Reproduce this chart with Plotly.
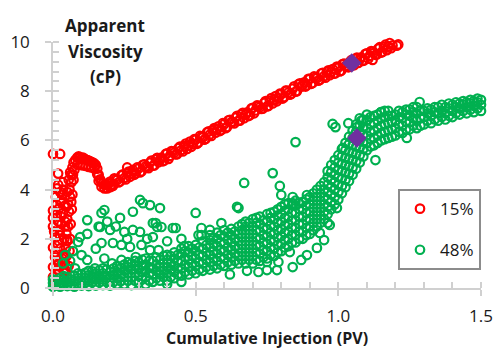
import plotly.graph_objects as go

# ---------------- data ----------------
# 15% : main rising band
red_main_x = [0.20, 0.21, 0.22, 0.23, 0.24, 0.25, 0.26, 0.27, 0.28, 0.29,
              0.30, 0.31, 0.32, 0.33, 0.34, 0.35, 0.36, 0.37, 0.38, 0.39,
              0.40, 0.41, 0.42, 0.43, 0.44, 0.45, 0.46, 0.47, 0.48, 0.49,
              0.50, 0.51, 0.52, 0.53, 0.54, 0.55, 0.56, 0.57, 0.58, 0.59,
              0.60, 0.61, 0.62, 0.63, 0.64, 0.65, 0.66, 0.67, 0.68, 0.69,
              0.70, 0.71, 0.72, 0.73, 0.74, 0.75, 0.76, 0.77, 0.78, 0.79,
              0.80, 0.81, 0.82, 0.83, 0.84, 0.85, 0.86, 0.87, 0.88, 0.89,
              0.90, 0.91, 0.92, 0.93, 0.94, 0.95, 0.96, 0.97, 0.98, 0.99,
              1.00, 1.01, 1.02, 1.03, 1.04, 1.05, 1.06, 1.07, 1.08, 1.09,
              1.10, 1.11, 1.12, 1.13, 1.14, 1.15, 1.16, 1.17, 1.18, 1.19,
              1.20, 1.21, 1.22]
red_main_y = [4.33, 4.20, 4.42, 4.29, 4.58, 4.47, 4.66, 4.52, 4.80, 4.66,
              4.86, 4.74, 5.03, 4.92, 5.10, 4.97, 5.23, 5.11, 5.30, 5.18,
              5.47, 5.37, 5.55, 5.43, 5.69, 5.61, 5.77, 5.65, 5.95, 5.85,
              6.03, 5.92, 6.14, 6.03, 6.33, 6.24, 6.42, 6.31, 6.57, 6.42,
              6.66, 6.54, 6.84, 6.74, 6.92, 6.80, 7.06, 6.90, 7.14, 7.02,
              7.32, 7.22, 7.40, 7.28, 7.52, 7.38, 7.62, 7.50, 7.80, 7.70,
              7.88, 7.76, 8.02, 7.86, 8.10, 7.98, 8.28, 8.18, 8.36, 8.24,
              8.50, 8.33, 8.56, 8.43, 8.72, 8.61, 8.78, 8.65, 8.90, 8.73,
              8.96, 8.83, 9.12, 9.02, 9.19, 9.06, 9.31, 9.15, 9.38, 9.25,
              9.54, 9.44, 9.61, 9.48, 9.73, 9.57, 9.80, 9.67, 9.96, 9.86,
              10.03, 9.90, 10.08]
# 15% : main band, points lying between the ones above
red_main2_x = [0.205, 0.215, 0.225, 0.235, 0.245, 0.255, 0.265, 0.275, 0.285, 0.295,
               0.305, 0.315, 0.325, 0.335, 0.345, 0.355, 0.365, 0.375, 0.385, 0.395,
               0.405, 0.415, 0.425, 0.435, 0.445, 0.455, 0.465, 0.475, 0.485, 0.495,
               0.505, 0.515, 0.525, 0.535, 0.545, 0.555, 0.565, 0.575, 0.585, 0.595,
               0.605, 0.615, 0.625, 0.635, 0.645, 0.655, 0.665, 0.675, 0.685, 0.695,
               0.705, 0.715, 0.725, 0.735, 0.745, 0.755, 0.765, 0.775, 0.785, 0.795,
               0.805, 0.815, 0.825, 0.835, 0.845, 0.855, 0.865, 0.875, 0.885, 0.895,
               0.905, 0.915, 0.925, 0.935, 0.945, 0.955, 0.965, 0.975, 0.985, 0.995,
               1.005, 1.015, 1.025, 1.035, 1.045, 1.055, 1.065, 1.075, 1.085, 1.095,
               1.105, 1.115, 1.125, 1.135, 1.145, 1.155, 1.165, 1.175, 1.185, 1.195,
               1.205, 1.215]
red_main2_y = [4.14, 4.46, 4.39, 4.33, 4.62, 4.41, 4.73, 4.64, 4.60, 4.90,
               4.70, 5.01, 4.95, 4.87, 5.18, 4.98, 5.29, 5.20, 5.15, 5.45,
               5.25, 5.57, 5.50, 5.44, 5.75, 5.55, 5.87, 5.80, 5.74, 6.05,
               5.86, 6.18, 6.12, 6.06, 6.37, 6.18, 6.50, 6.44, 6.38, 6.70,
               6.50, 6.82, 6.75, 6.69, 7.00, 6.80, 7.12, 7.05, 6.99, 7.30,
               7.10, 7.42, 7.35, 7.29, 7.60, 7.40, 7.72, 7.65, 7.59, 7.90,
               7.70, 8.02, 7.95, 7.89, 8.20, 8.00, 8.32, 8.25, 8.19, 8.50,
               8.30, 8.60, 8.53, 8.46, 8.75, 8.55, 8.85, 8.78, 8.71, 9.00,
               8.80, 9.10, 9.03, 8.97, 9.26, 9.06, 9.37, 9.30, 9.23, 9.52,
               9.32, 9.63, 9.56, 9.49, 9.79, 9.59, 9.89, 9.82, 9.75, 10.05,
               9.85, 10.12]

# 15% : early scatter, steep rise and hump
red_early_x = [0.000, 0.025, 0.018, 0.014, 0.025, 0.032, 0.035, 0.000, 0.000, 0.000,
               0.018, 0.025, 0.007, 0.032, 0.000, 0.025, 0.007, 0.032, 0.042, 0.000,
               0.018, 0.000, 0.035, 0.042, 0.035, 0.042, 0.050, 0.010, 0.020, 0.012,
               0.028, 0.038, 0.005, 0.012, 0.020, 0.028, 0.008, 0.016, 0.024, 0.030,
               0.004, 0.014, 0.022, 0.030, 0.010, 0.018, 0.026, 0.034, 0.006, 0.015,
               0.040, 0.045, 0.042, 0.048, 0.045, 0.050, 0.047, 0.053, 0.050, 0.056,
               0.053, 0.060, 0.058, 0.065, 0.063, 0.068, 0.072, 0.055, 0.058, 0.060,
               0.062, 0.066, 0.068, 0.072, 0.075, 0.038, 0.040, 0.043, 0.047, 0.050,
               0.055, 0.060, 0.064, 0.070,
               0.078, 0.085, 0.090, 0.095, 0.100, 0.105, 0.110, 0.115, 0.120, 0.125,
               0.130, 0.135, 0.140, 0.145, 0.150, 0.155, 0.160, 0.165, 0.170, 0.175,
               0.180, 0.185, 0.190, 0.195,
               0.085, 0.095, 0.105, 0.115, 0.125, 0.135, 0.145, 0.155, 0.160, 0.170,
               0.180, 0.190, 0.200, 0.210, 0.260, 1.120]
red_early_y = [5.45, 5.45, 4.65, 4.05, 3.90, 3.78, 4.00, 3.15, 2.85, 2.50,
               2.70, 2.35, 2.05, 1.95, 1.65, 1.60, 1.25, 1.20, 1.35, 0.85,
               0.75, 0.45, 1.00, 3.35, 3.05, 2.50, 1.95, 0.30, 1.00, 3.40,
               2.90, 0.70, 0.20, 0.55, 0.40, 0.90, 1.45, 1.80, 2.15, 2.60,
               2.30, 3.00, 3.25, 3.55, 3.70, 4.20, 3.50, 4.30, 0.10, 1.10,
               0.40, 0.70, 1.00, 1.30, 1.60, 1.90, 2.20, 2.50, 2.80, 3.10,
               3.40, 3.70, 4.00, 4.30, 4.60, 4.90, 5.10, 0.90, 1.50, 2.00,
               2.60, 3.20, 3.80, 4.40, 4.80, 1.40, 2.00, 2.70, 3.30, 3.90,
               4.40, 4.70, 3.50, 4.60,
               5.20, 5.30, 5.35, 5.30, 5.25, 5.30, 5.25, 5.22, 5.20, 5.18,
               5.15, 5.12, 5.10, 5.06, 5.00, 4.85, 4.60, 4.42, 4.30, 4.25,
               4.20, 4.22, 4.18, 4.25,
               5.02, 5.00, 4.98, 4.96, 4.92, 4.90, 4.85, 4.62, 4.35, 4.12,
               4.05, 4.05, 4.10, 4.15, 4.90, 9.27]

# 48% : dense band, one column of values per x position
green_band_cols_x = [0.000, 0.025, 0.050, 0.075, 0.100, 0.125, 0.150, 0.175, 0.200, 0.225,
                     0.250, 0.275, 0.300, 0.325, 0.350, 0.375, 0.400, 0.425, 0.450, 0.475,
                     0.500, 0.525, 0.550, 0.575, 0.600, 0.625, 0.650, 0.675, 0.700, 0.725,
                     0.750, 0.775, 0.800, 0.825, 0.850, 0.875, 0.900, 0.925, 0.950, 0.975,
                     1.000, 1.025, 1.050, 1.075, 1.100, 1.125, 1.150, 1.175, 1.200, 1.225,
                     1.250, 1.275, 1.300, 1.325, 1.350, 1.375, 1.400, 1.425, 1.450, 1.475,
                     1.500]
green_band_cols_y = [
    [0.05, 0.20, 0.35], [0.05, 0.22, 0.40], [0.08, 0.25, 0.45], [0.05, 0.28, 0.50],
    [0.10, 0.30, 0.55], [0.08, 0.30, 0.52, 0.70], [0.10, 0.35, 0.60], [0.12, 0.35, 0.60, 0.80],
    [0.10, 0.40, 0.65], [0.15, 0.40, 0.65, 0.90], [0.15, 0.45, 0.70, 0.95], [0.12, 0.45, 0.75, 1.00],
    [0.20, 0.50, 0.75, 1.05], [0.15, 0.45, 0.70, 0.95, 1.20], [0.25, 0.55, 0.80, 1.10], [0.30, 0.55, 0.85, 1.15],
    [0.30, 0.60, 0.85, 1.15, 1.35], [0.40, 0.65, 0.90, 1.20, 1.45], [0.50, 0.80, 1.10, 1.40, 1.60], [0.55, 0.85, 1.15, 1.45, 1.70],
    [0.60, 0.90, 1.20, 1.50, 1.75], [0.70, 1.00, 1.30, 1.60, 1.90], [0.75, 1.05, 1.35, 1.65, 1.95, 2.15], [0.80, 1.10, 1.40, 1.70, 2.00, 2.25],
    [0.90, 1.20, 1.50, 1.80, 2.10, 2.35], [0.95, 1.25, 1.55, 1.85, 2.15, 2.40], [1.00, 1.30, 1.60, 1.90, 2.20, 2.50], [1.00, 1.30, 1.60, 1.90, 2.20, 2.50, 2.70],
    [1.00, 1.30, 1.60, 1.90, 2.20, 2.50, 2.80], [1.10, 1.40, 1.70, 2.00, 2.30, 2.60, 2.90], [1.20, 1.50, 1.80, 2.10, 2.40, 2.70, 3.00], [1.30, 1.60, 1.90, 2.20, 2.50, 2.80, 3.10],
    [1.50, 1.80, 2.10, 2.40, 2.70, 3.00, 3.30], [1.70, 2.00, 2.30, 2.60, 2.90, 3.20, 3.45], [1.85, 2.15, 2.45, 2.75, 3.05, 3.35, 3.55], [2.00, 2.30, 2.60, 2.90, 3.20, 3.50],
    [2.20, 2.50, 2.80, 3.10, 3.40, 3.70], [2.50, 2.80, 3.10, 3.40, 3.70, 4.00], [2.80, 3.10, 3.40, 3.70, 4.00, 4.30], [3.20, 3.50, 3.80, 4.10, 4.40, 4.70, 5.00],
    [3.60, 3.90, 4.20, 4.50, 4.80, 5.10, 5.40], [4.10, 4.40, 4.70, 5.00, 5.30, 5.60, 5.90], [4.60, 4.90, 5.20, 5.50, 5.80, 6.10, 6.40], [5.10, 5.40, 5.70, 6.00, 6.30, 6.60, 6.90],
    [5.60, 5.90, 6.20, 6.50, 6.80, 7.05], [5.80, 6.10, 6.40, 6.70, 7.00], [6.00, 6.30, 6.60, 6.90, 7.15], [6.10, 6.40, 6.70, 7.00, 7.20],
    [6.20, 6.50, 6.80, 7.05], [6.30, 6.60, 6.90, 7.15], [6.45, 6.75, 7.00, 7.25], [6.50, 6.80, 7.10, 7.35],
    [6.65, 6.95, 7.20], [6.70, 7.00, 7.25], [6.80, 7.10, 7.35], [6.85, 7.10, 7.35],
    [6.95, 7.20, 7.45], [7.05, 7.30, 7.50], [7.10, 7.35, 7.55], [7.15, 7.40, 7.60],
    [7.20, 7.45, 7.65],
]
# 48% : dense band, in-between columns
green_band2_cols_x = [0.0125, 0.0375, 0.0625, 0.0875, 0.1125, 0.1375, 0.1625, 0.1875, 0.2125, 0.2375,
                      0.2625, 0.2875, 0.3125, 0.3375, 0.3625, 0.3875, 0.4125, 0.4375, 0.4625, 0.4875,
                      0.5125, 0.5375, 0.5625, 0.5875, 0.6125, 0.6375, 0.6625, 0.6875, 0.7125, 0.7375,
                      0.7625, 0.7875, 0.8125, 0.8375, 0.8625, 0.8875, 0.9125, 0.9375, 0.9625, 0.9875,
                      1.0125, 1.0375, 1.0625, 1.0875, 1.1125, 1.1375, 1.1625, 1.1875, 1.2125, 1.2375,
                      1.2625, 1.2875, 1.3125, 1.3375, 1.3625, 1.3875, 1.4125, 1.4375, 1.4625, 1.4875]
green_band2_cols_y = [
    [0.12, 0.30], [0.15, 0.32, 0.48], [0.12, 0.35], [0.18, 0.40, 0.60],
    [0.20, 0.42, 0.62], [0.22, 0.45, 0.68], [0.22, 0.48, 0.72], [0.25, 0.50, 0.75],
    [0.25, 0.52, 0.80], [0.28, 0.55, 0.80], [0.30, 0.60, 0.85, 1.05], [0.30, 0.60, 0.90, 1.10],
    [0.35, 0.65, 0.90, 1.15], [0.30, 0.60, 0.85, 1.10], [0.40, 0.70, 0.95, 1.25], [0.45, 0.70, 1.00, 1.30],
    [0.45, 0.75, 1.00, 1.30], [0.55, 0.80, 1.05, 1.35], [0.65, 0.95, 1.25, 1.50], [0.70, 1.00, 1.30, 1.60],
    [0.75, 1.05, 1.35, 1.65], [0.85, 1.15, 1.45, 1.75], [0.90, 1.20, 1.50, 1.80, 2.05], [0.95, 1.25, 1.55, 1.85, 2.15],
    [1.05, 1.35, 1.65, 1.95, 2.25], [1.10, 1.40, 1.70, 2.00, 2.30], [1.15, 1.45, 1.75, 2.05, 2.35, 2.60], [1.15, 1.45, 1.75, 2.05, 2.35, 2.65],
    [1.15, 1.45, 1.75, 2.05, 2.35, 2.65, 2.85], [1.25, 1.55, 1.85, 2.15, 2.45, 2.75], [1.35, 1.65, 1.95, 2.25, 2.55, 2.85, 3.05], [1.45, 1.75, 2.05, 2.35, 2.65, 2.95, 3.20],
    [1.65, 1.95, 2.25, 2.55, 2.85, 3.15, 3.40], [1.85, 2.15, 2.45, 2.75, 3.05, 3.35], [2.00, 2.30, 2.60, 2.90, 3.20, 3.45], [2.15, 2.45, 2.75, 3.05, 3.35, 3.60],
    [2.35, 2.65, 2.95, 3.25, 3.55, 3.85], [2.65, 2.95, 3.25, 3.55, 3.85, 4.15], [3.00, 3.30, 3.60, 3.90, 4.20, 4.50, 4.75], [3.40, 3.70, 4.00, 4.30, 4.60, 4.90, 5.20],
    [3.85, 4.15, 4.45, 4.75, 5.05, 5.35, 5.65], [4.35, 4.65, 4.95, 5.25, 5.55, 5.85, 6.15], [4.85, 5.15, 5.45, 5.75, 6.05, 6.35, 6.65], [5.35, 5.65, 5.95, 6.25, 6.55, 6.85],
    [5.75, 6.05, 6.35, 6.65, 6.95], [5.90, 6.20, 6.50, 6.80, 7.05], [6.05, 6.35, 6.65, 6.95, 7.20], [6.15, 6.45, 6.75, 7.00],
    [6.35, 6.65, 6.95, 7.20], [6.45, 6.75, 7.05, 7.25], [6.60, 6.90, 7.15, 7.35], [6.60, 6.90, 7.20],
    [6.80, 7.10, 7.30], [6.85, 7.15, 7.35], [6.95, 7.20, 7.45], [7.00, 7.30, 7.50],
    [7.10, 7.35, 7.55], [7.20, 7.45, 7.60], [7.25, 7.50, 7.65], [7.30, 7.55, 7.70],
]

# 48% : scattered points away from the band
green_out_x = [0.042, 0.035, 0.120, 0.095, 0.088, 0.120, 0.170, 0.180, 0.160, 0.190,
               0.200, 0.235, 0.220, 0.170, 0.210, 0.240, 0.280, 0.305, 0.315, 0.340,
               0.375, 0.250, 0.280, 0.305, 0.350, 0.360, 0.380, 0.420, 0.500, 0.520,
               0.270, 0.310, 0.350, 0.340, 0.370, 0.120, 0.100, 0.077, 0.147, 0.207,
               0.240, 0.290, 0.670, 0.645, 0.650, 0.795, 0.800, 0.840, 0.890, 0.840,
               0.590, 0.550, 0.520, 0.510, 0.750, 0.785, 0.840, 0.870, 0.890, 0.830,
               0.925, 0.950, 0.935, 0.963, 0.750, 0.790, 0.850, 0.770, 0.980, 0.990,
               1.035, 1.065, 0.970, 0.995, 1.016, 1.080, 1.100, 1.150, 1.285, 1.240,
               1.130, 0.165, 0.365, 0.430, 0.070, 0.060, 0.150, 0.180, 0.260, 0.330,
               0.400, 0.450, 0.460, 0.620, 0.680, 0.720, 0.450, 0.400]
green_out_y = [1.34, 1.00, 2.76, 2.07, 1.87, 2.20, 3.05, 3.17, 2.50, 2.70,
               2.36, 2.85, 2.50, 1.83, 1.83, 1.75, 3.10, 3.58, 3.45, 3.37,
               3.25, 2.28, 2.36, 2.28, 2.64, 2.64, 2.48, 2.44, 3.05, 2.15,
               1.67, 1.75, 2.07, 1.54, 1.54, 1.14, 1.34, 0.80, 0.80, 1.00,
               1.14, 1.26, 4.27, 3.30, 3.25, 4.15, 3.78, 3.70, 3.78, 3.45,
               2.64, 2.36, 2.44, 2.15, 0.73, 0.73, 0.85, 1.14, 1.34, 1.46,
               1.63, 1.95, 2.24, 2.64, 1.06, 1.06, 5.93, 4.67, 6.67, 6.54,
               6.70, 6.54, 2.56, 3.25, 5.70, 6.80, 6.83, 7.15, 7.56, 6.10,
               5.20, 2.48, 2.48, 2.44, 1.50, 1.10, 1.60, 1.20, 2.00, 2.00,
               1.90, 2.00, 1.70, 0.55, 0.70, 0.65, 0.25, 0.15]

# highlighted points
marker_x = [1.047, 1.065]
marker_y = [9.15, 6.10]

series_names = ["15%", "48%"]
tick_vals_x = [0.0, 0.5, 1.0, 1.5]
tick_text_x = ["0.0", "0.5", "1.0", "1.5"]
tick_vals_y = [0, 2, 4, 6, 8, 10]

# ---------------- build ----------------
red_x = red_early_x + red_main_x + red_main2_x
red_y = red_early_y + red_main_y + red_main2_y
green_x, green_y = [], []
for cols_x, cols_y in [(green_band_cols_x, green_band_cols_y),
                       (green_band2_cols_x, green_band2_cols_y)]:
    for cx, col in zip(cols_x, cols_y):
        for v in col:
            green_x.append(cx)
            green_y.append(v)
green_x += green_out_x
green_y += green_out_y

RED = "#FF0000"
GREEN = "#00B050"
FONT = "Open Sans"
MS = 8.5
LW = 2.2

fig = go.Figure()
fig.add_trace(go.Scatter(
    x=red_x, y=red_y, mode="markers", name=series_names[0], legendgroup="a",
    marker=dict(symbol="circle-open", size=MS, color=RED, line=dict(width=LW, color=RED)),
    cliponaxis=False))
fig.add_trace(go.Scatter(
    x=green_x, y=green_y, mode="markers", name=series_names[1], legendgroup="b",
    marker=dict(symbol="circle-open", size=MS, color=GREEN, line=dict(width=LW, color=GREEN)),
    cliponaxis=False))
fig.add_trace(go.Scatter(
    x=marker_x, y=marker_y, mode="markers", showlegend=False,
    marker=dict(symbol="diamond", size=15, color="#7030A0", line=dict(width=0)),
    cliponaxis=False))

axis_common = dict(
    automargin=False,
    showline=True, linecolor="#D0D0D0", linewidth=1.5, showgrid=False, zeroline=False,
    ticks="outside", ticklen=6, tickwidth=1.5, tickcolor="#D0D0D0",
    tickfont=dict(family=FONT, size=17, color="#1a1a1a"),
)
fig.update_xaxes(
    range=[0, 1.5], tickvals=tick_vals_x, ticktext=tick_text_x,
    minor=dict(dtick=0.1, ticks="inside", ticklen=6, tickwidth=1.5, tickcolor="#D0D0D0"),
    title=dict(text="<b>Cumulative Injection (PV)</b>", font=dict(family=FONT, size=16, color="#1a1a1a"),
               standoff=6),
    ticklabelstandoff=6,
    **axis_common)
fig.update_yaxes(
    range=[0, 10], tickvals=tick_vals_y,
    minor=dict(dtick=0.4, ticks="inside", ticklen=6, tickwidth=1.5, tickcolor="#D0D0D0"),
    ticklabelstandoff=12,
    **axis_common)

for txt, yy in [("Apparent", 1.069), ("Viscosity", 0.963), ("(cP)", 0.858)]:
    fig.add_annotation(text="<b>" + txt + "</b>", x=0.1215, y=yy, xref="paper", yref="paper",
                       showarrow=False, xanchor="center", yanchor="middle",
                       font=dict(family=FONT, size=17, color="#1a1a1a"))

fig.update_layout(
    width=494, height=350,
    margin=dict(l=53, r=13, t=42, b=62),
    plot_bgcolor="white", paper_bgcolor="white",
    showlegend=True,
    legend=dict(x=1.0, y=0.402, xanchor="right", yanchor="top",
                bordercolor="#8C8C8C", borderwidth=2, bgcolor="white",
                font=dict(family=FONT, size=17, color="#1a1a1a"),
                tracegroupgap=16, traceorder="grouped", itemwidth=30),
)

fig.write_html("out.html", config={"displayModeBar": False},
               post_script="document.body.style.margin='0px';")
